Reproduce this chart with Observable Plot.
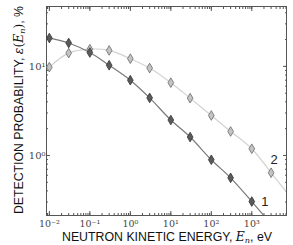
<!DOCTYPE html>
<html><head><meta charset="utf-8">
<script src="https://cdn.jsdelivr.net/npm/d3@7"></script>
<script src="https://cdn.jsdelivr.net/npm/@observablehq/plot@0.6"></script>
<style>body{margin:0;background:#fff}</style>
</head><body><div id="chart"></div>
<script>
const energies = [0.01, 0.03, 0.1, 0.3, 1, 3, 10, 30, 100, 300, 1000];
const series1 = [20.8, 18.3, 14.3, 10.3, 7.0, 4.43, 2.5, 1.61, 0.895, 0.561, 0.304];
const energies2 = [0.01, 0.03, 0.1, 0.3, 1, 3, 10, 30, 100, 300, 1000, 3000];
const series2 = [9.8, 14.1, 15.6, 15.1, 12.2, 9.57, 6.56, 4.4, 2.81, 1.86, 1.19, 0.64];
// fitted curves extend beyond the last measured point
const ext1 = {e: 3000, v: 0.17};
const ext2 = {e: 7200, v: 0.387};
const xTickLabels = [0.01, 0.1, 1, 10, 100, 1000];
const yTickLabels = [1, 10];
const sup = {"-":"⁻","0":"⁰","1":"¹","2":"²","3":"³"};
const fmt = v => "10" + String(Math.round(Math.log10(v))).split("").map(c => sup[c]).join("");

const d1 = energies.map((e,i) => ({e, v: series1[i]}));
const d2 = energies2.map((e,i) => ({e, v: series2[i]}));
const l1 = [...d1, ext1];
const l2 = [...d2, ext2];

const tallDiamond = {draw(ctx, size){ const r = Math.sqrt(size/Math.PI); const h=r*1.15, w=r*0.68; ctx.moveTo(0,-h); ctx.lineTo(w,0); ctx.lineTo(0,h); ctx.lineTo(-w,0); ctx.closePath(); }};

const minorX = [];
for (let p=-3;p<=3;p++) for (let m=1;m<10;m++) minorX.push(m*10**p);
const minorY = [];
for (let p=-1;p<=1;p++) for (let m=1;m<10;m++) minorY.push(m*10**p);

const xdom=[0.0085,7200], ydom=[0.212,47];
const axc="#555";
const plot = Plot.plot({
  width: 293, height: 245,
  marginLeft: 46, marginRight: 7, marginTop: 6, marginBottom: 30,
  style: {fontFamily: "DejaVu Serif", fontSize: "10px", color: "#444", background: "#fff"},
  x: {type: "log", domain: xdom, label: null},
  y: {type: "log", domain: ydom, label: null},
  marks: [
    Plot.frame({stroke: axc}),
    Plot.axisX(minorX.filter(v=>v>=xdom[0]&&v<=xdom[1]), {anchor:"bottom", tickSize:-2, tickFormat:()=>"", stroke: axc}),
    Plot.axisX(minorX.filter(v=>v>=xdom[0]&&v<=xdom[1]), {anchor:"top", tickSize:-2, tickFormat:()=>"", stroke: axc}),
    Plot.axisX(xTickLabels, {anchor:"bottom", tickSize:-4, tickPadding:9, tickFormat: fmt, stroke: axc, fill:"#444", fontSize: 9.5}),
    Plot.axisX(xTickLabels, {anchor:"top", tickSize:-4, tickFormat:()=>"", stroke: axc}),
    Plot.axisY(minorY.filter(v=>v>=ydom[0]&&v<=ydom[1]), {anchor:"left", tickSize:-2, tickFormat:()=>"", stroke: axc}),
    Plot.axisY(minorY.filter(v=>v>=ydom[0]&&v<=ydom[1]), {anchor:"right", tickSize:-2, tickFormat:()=>"", stroke: axc}),
    Plot.axisY(yTickLabels, {anchor:"left", tickSize:-4, tickPadding:5, tickFormat: fmt, stroke: axc, fill:"#444", fontSize: 10}),
    Plot.axisY(yTickLabels, {anchor:"right", tickSize:-4, tickFormat:()=>"", stroke: axc}),
    Plot.line(l2, {x:"e", y:"v", stroke:"#d2d2d2", strokeWidth:1.2, curve:"catmull-rom", clip:true}),
    Plot.line(l1, {x:"e", y:"v", stroke:"#7a7a7a", strokeWidth:1.2, curve:"catmull-rom", clip:true}),
    Plot.dot(d2, {x:"e", y:"v", symbol: tallDiamond, r:4.2, fill:"#c4c4c4", stroke:"#6a6a6a", strokeWidth:0.8}),
    Plot.dot(d1, {x:"e", y:"v", symbol: tallDiamond, r:4.2, fill:"#5a5a5a", stroke:"#333", strokeWidth:0.8}),
    Plot.text([d1[d1.length-1]], {x:"e", y:"v", text:()=>"1", dx:13, dy:0, fontFamily:"Liberation Sans", fontSize:13, fill:"#222"}),
    Plot.text([d2[d2.length-1]], {x:"e", y:"v", text:()=>"2", dx:3, dy:-13, fontFamily:"Liberation Sans", fontSize:13, fill:"#222"})
  ]
});
document.getElementById("chart").appendChild(plot);
const svg = d3.select(plot);
const xl = svg.append("text").attr("x", 167).attr("y", 241).attr("text-anchor","middle")
  .attr("font-family","Liberation Sans").attr("font-size", 12).attr("fill","#111")
  .attr("textLength", 210).attr("lengthAdjust","spacingAndGlyphs");
xl.append("tspan").text("NEUTRON KINETIC ENERGY, ");
xl.append("tspan").attr("font-family","DejaVu Serif").attr("font-style","italic").text("E");
xl.append("tspan").attr("font-family","DejaVu Serif").attr("font-style","italic").attr("font-size",8).attr("dy",2).text("n");
xl.append("tspan").attr("dy",-2).text(", eV");
const yl = svg.append("text").attr("transform","translate(23,110) rotate(-90)").attr("text-anchor","middle")
  .attr("font-family","Liberation Sans").attr("font-size", 12).attr("fill","#111")
  .attr("textLength", 208).attr("lengthAdjust","spacingAndGlyphs");
yl.append("tspan").text("DETECTION PROBABILITY, ");
yl.append("tspan").attr("font-family","DejaVu Serif").attr("font-style","italic").text("ε");
yl.append("tspan").attr("font-family","DejaVu Serif").text("(");
yl.append("tspan").attr("font-family","DejaVu Serif").attr("font-style","italic").text("E");
yl.append("tspan").attr("font-family","DejaVu Serif").attr("font-style","italic").attr("font-size",8).attr("dy",2).text("n");
yl.append("tspan").attr("font-family","DejaVu Serif").attr("dy",-2).text(")");
yl.append("tspan").text(", %");
</script>
</body></html>
